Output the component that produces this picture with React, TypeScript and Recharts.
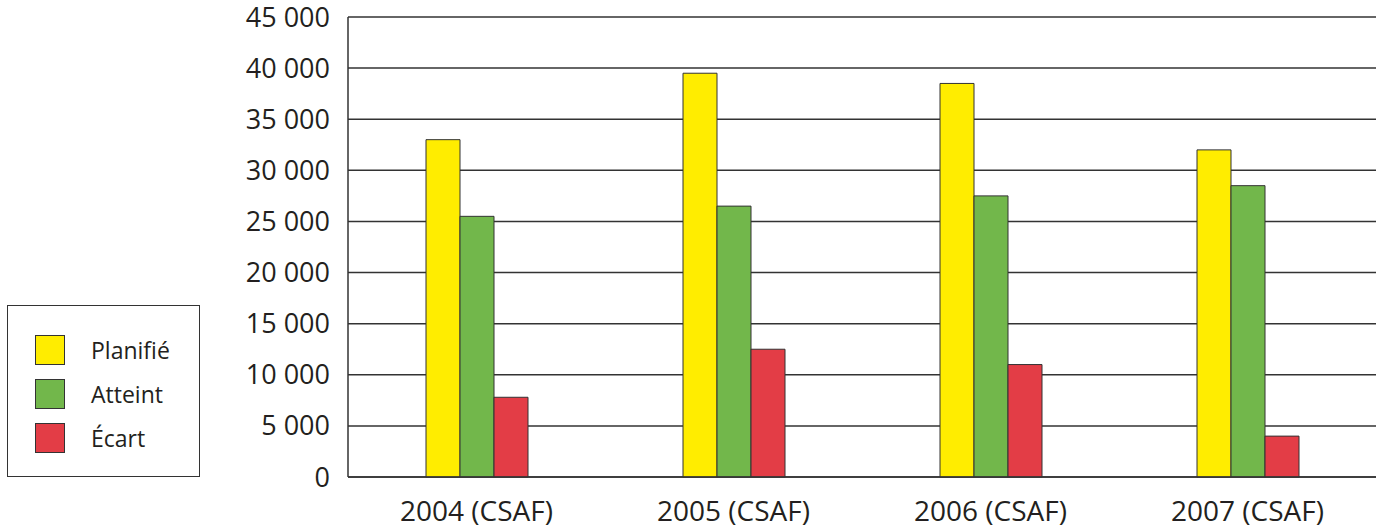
import { Bar, BarChart, CartesianGrid, XAxis, YAxis } from 'recharts'

const categories = ['2004 (CSAF)', '2005 (CSAF)', '2006 (CSAF)', '2007 (CSAF)']
const planifie = [33000, 39500, 38500, 32000]
const atteint = [25500, 26500, 27500, 28500]
const ecart = [7800, 12500, 11000, 4000]
const yTicks = [0, 5000, 10000, 15000, 20000, 25000, 30000, 35000, 40000, 45000]

const series = [
  { key: 'planifie', name: 'Planifié', color: '#ffed00' },
  { key: 'atteint', name: 'Atteint', color: '#72b74b' },
  { key: 'ecart', name: 'Écart', color: '#e33d46' },
]

const data = categories.map((c, i) => ({ label: c, planifie: planifie[i], atteint: atteint[i], ecart: ecart[i] }))

const fmt = (v: number) => (v >= 1000 ? `${Math.floor(v / 1000)} ${String(v % 1000).padStart(3, '0')}` : String(v))

const font = '"Open Sans", sans-serif'

function LegendBox() {
  return (
    <div
      style={{
        position: 'absolute',
        left: 7,
        top: 305,
        width: 193,
        height: 172,
        border: '1px solid #333',
        boxSizing: 'border-box',
        padding: '22px 0 0 27px',
        fontFamily: font,
        background: '#fff',
      }}
    >
      {series.map((s) => (
        <div key={s.key} style={{ display: 'flex', alignItems: 'center', height: 44 }}>
          <div style={{ width: 30, height: 30, background: s.color, border: '1px solid #333', boxSizing: 'border-box' }} />
          <span style={{ marginLeft: 26, fontSize: 23, color: '#231f20' }}>{s.name}</span>
        </div>
      ))}
    </div>
  )
}

export default function App() {
  return (
    <div style={{ position: 'absolute', left: 0, top: 0, width: 1383, height: 531, background: '#fff' }}>
      <BarChart width={1383} height={531} data={data} margin={{ top: 17, right: 7, left: 0, bottom: 0 }} barGap={0} barSize={34}>
        <CartesianGrid vertical={false} stroke="#333" strokeWidth={1.5} />
        <XAxis
          dataKey="label"
          height={54}
          interval={0}
          tickLine={false}
          tickSize={0}
          tickMargin={24}
          axisLine={{ stroke: '#333', strokeWidth: 1.5 }}
          tick={{ fontSize: 28, fill: '#231f20', fontFamily: font }}
        />
        <YAxis
          width={348}
          domain={[0, 45000]}
          ticks={yTicks}
          interval={0}
          tickFormatter={fmt}
          tickLine={false}
          tickSize={0}
          tickMargin={18}
          axisLine={{ stroke: '#333', strokeWidth: 1.5 }}
          tick={{ fontSize: 27, fill: '#231f20', fontFamily: font }}
        />
        {series.map((s) => (
          <Bar key={s.key} dataKey={s.key} name={s.name} fill={s.color} stroke="#333" strokeWidth={1} isAnimationActive={false} />
        ))}
      </BarChart>
      <LegendBox />
    </div>
  )
}
